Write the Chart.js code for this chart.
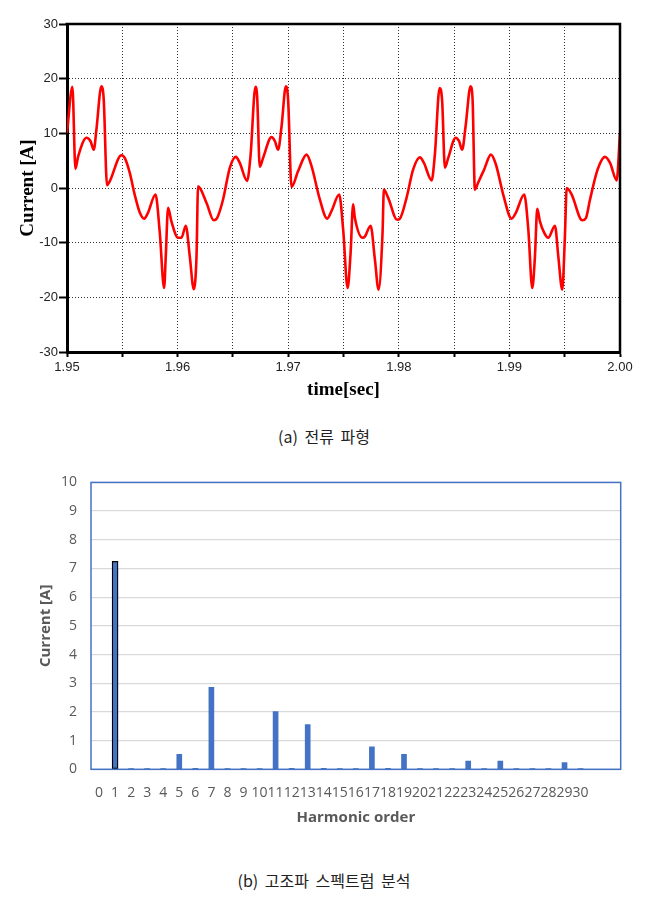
<!DOCTYPE html>
<html><head><meta charset="utf-8">
<script src="https://cdn.jsdelivr.net/npm/chart.js@4.4.1/dist/chart.umd.min.js"></script>
<style>
html,body{margin:0;padding:0;background:#fff;width:648px;height:898px;overflow:hidden;position:relative}
#c1{position:absolute;left:0;top:0;width:648px;height:405px}
#c2{position:absolute;left:0;top:460px;width:648px;height:370px}
.cap{position:absolute;left:0;width:648px;text-align:center;font-family:"Noto Sans CJK KR";font-size:16px;line-height:24px;color:#222;word-spacing:3px}
</style></head><body>
<canvas id="c1" width="648" height="405"></canvas>
<canvas id="c2" width="648" height="370"></canvas>
<div class="cap" style="top:424px">(a) 전류 파형</div>
<div class="cap" style="top:868px">(b) 고조파 스펙트럼 분석</div>
<script>
// ---- (a) current waveform ----
const times = [1.95000,1.95049,1.95076,1.95100,1.95176,1.95212,1.95242,1.95266,1.95311,1.95332,
1.95362,1.95386,1.95492,1.95522,1.95567,1.95612,1.95658,1.95697,1.95733,1.95800,
1.95839,1.95878,1.95893,1.95914,1.95944,1.96004,1.96035,1.96074,1.96110,1.96146,
1.96171,1.96185,1.96261,1.96327,1.96357,1.96411,1.96472,1.96526,1.96562,1.96628,
1.96659,1.96704,1.96719,1.96743,1.96773,1.96849,1.96879,1.96909,1.96940,1.96979,
1.96999,1.97030,1.97090,1.97166,1.97211,1.97286,1.97352,1.97392,1.97461,1.97497,
1.97537,1.97564,1.97587,1.97603,1.97672,1.97693,1.97745,1.97784,1.97817,1.97853,
1.97865,1.97904,1.97985,1.98010,1.98070,1.98130,1.98191,1.98227,1.98297,1.98326,
1.98369,1.98392,1.98417,1.98447,1.98514,1.98544,1.98573,1.98604,1.98649,1.98667,
1.98688,1.98718,1.98772,1.98833,1.98878,1.98944,1.99020,1.99059,1.99134,1.99171,
1.99207,1.99231,1.99252,1.99276,1.99315,1.99351,1.99412,1.99442,1.99478,1.99502,
1.99518,1.99563,1.99659,1.99692,1.99729,1.99798,1.99864,1.99910,1.99970,2.00000];
const current = [10.1,18.5,3.5,5.7,9.2,8.6,7.0,10.7,18.6,16.2,
0.5,1.2,6.0,5.5,2.8,-1.2,-4.5,-5.6,-4.5,-1.2,
-8.2,-18.3,-12.5,-3.6,-6.1,-9.1,-9.1,-6.9,-12.5,-18.5,
-12.5,0.3,-2.7,-5.9,-5.5,-2.1,3.7,5.7,4.6,1.3,
5.8,18.5,16.8,3.9,5.5,9.3,8.6,7.0,11.3,18.6,
16.2,0.2,3.1,6.1,4.0,-2.1,-5.6,-4.2,-1.2,-7.6,
-18.3,-11.9,-3.0,-5.5,-9.1,-8.9,-6.9,-13.1,-18.6,-8.2,
-0.3,-1.8,-5.8,-5.6,-1.8,3.4,5.6,4.6,1.4,6.1,
18.3,15.9,3.7,5.5,9.2,8.6,7.0,11.3,18.6,16.2,
-0.3,1.0,3.4,6.1,4.3,-1.2,-5.6,-4.5,-1.2,-7.6,
-18.3,-12.5,-3.8,-6.1,-8.2,-9.1,-6.9,-12.5,-18.6,-8.8,
0.0,-1.2,-5.9,-5.5,-2.1,3.4,5.7,4.6,1.4,10.1];
const timeMin = 1.95, timeMax = 2.00, timeStep = 0.005;
const currentMin = -30, currentMax = 30, currentStep = 10;

// ---- (b) harmonic spectrum ----
const harmonicLabels = ['0','1','2','3','4','5','6','7','8','9','10','11','12','13','14','15','16','17','18','19','20','21','22','23','24','25','26','27','28','29','30','',''];
const harmonicCurrent = [0,7.25,0.01,0.01,0.01,0.52,0.03,2.86,0.01,0.01,0.01,2.01,0.03,1.56,0.03,0.01,0.01,0.78,0.03,0.52,0.01,0.01,0.01,0.29,0.02,0.29,0.01,0.01,0.01,0.23,0.01,null,null];
const fundamentalIndex = 1;

const frame1 = {id:'frame1', afterDatasetsDraw(chart){
  const {ctx, chartArea:a} = chart;
  ctx.save(); ctx.strokeStyle='#000'; ctx.lineWidth=2.5; ctx.setLineDash([]);
  ctx.beginPath(); ctx.moveTo(a.left-1.5,a.top); ctx.lineTo(a.right,a.top); ctx.lineTo(a.right,a.bottom+1.5); ctx.stroke();
  ctx.restore();
}};
const frame2 = {id:'frame2', afterDatasetsDraw(chart){
  const {ctx, chartArea:a} = chart;
  ctx.save(); ctx.strokeStyle='#4472C4'; ctx.lineWidth=1.5;
  ctx.strokeRect(a.left,a.top,a.right-a.left,a.bottom-a.top);
  ctx.restore();
}};

new Chart(document.getElementById('c1'), {
  type:'line',
  data:{datasets:[{data: times.map((t,i)=>({x:t,y:current[i]})), borderColor:'#ff0000', borderWidth:2.6, pointRadius:0, cubicInterpolationMode:'monotone', fill:false}]},
  options:{
    responsive:false, animation:false, devicePixelRatio:1,
    layout:{padding:{left:0,top:24,right:28,bottom:0}},
    plugins:{legend:{display:false}, tooltip:{enabled:false}},
    scales:{
      x:{type:'linear', min:timeMin, max:timeMax,
        afterFit(s){ s.height = 53; },
        ticks:{stepSize:timeStep, autoSkip:false, maxRotation:0, padding:3, color:'#222',
          font:{family:'Liberation Sans', size:13},
          callback:(v,i)=> i%2===0 ? Number(v).toFixed(2) : ''},
        grid:{color:'#333', lineWidth:1, tickLength:5, tickColor:'#000', tickWidth:2, tickBorderDash:[]},
        border:{display:true, color:'#000', width:3, dash:[1,2]},
        title:{display:true, text:'time[sec]', color:'#000', font:{family:'Liberation Serif', size:19, weight:'bold'}, padding:{top:0,bottom:3.6}}
      },
      y:{min:currentMin, max:currentMax,
        afterFit(s){ s.width = 67; },
        ticks:{stepSize:currentStep, padding:1, color:'#222', font:{family:'Liberation Sans', size:13}},
        grid:{color:'#333', lineWidth:1, tickLength:8, tickColor:'#000', tickWidth:2, tickBorderDash:[]},
        border:{display:true, color:'#000', width:3, dash:[1,2]},
        title:{display:true, text:'Current [A]', color:'#000', font:{family:'Liberation Serif', size:19, weight:'bold'}, padding:{top:16.6,bottom:0}}
      }
    }
  },
  plugins:[frame1]
});

new Chart(document.getElementById('c2'), {
  type:'bar',
  data:{labels:harmonicLabels, datasets:[
    {data: harmonicCurrent.map((v,i)=> i===fundamentalIndex ? null : v), backgroundColor:'#4472C4', barThickness:5, grouped:false},
    {data: harmonicCurrent.map((v,i)=> i===fundamentalIndex ? v : null), backgroundColor:'#4472C4', borderColor:'#000', borderWidth:1.3, borderSkipped:false, barThickness:6, grouped:false}
  ]},
  options:{
    responsive:false, animation:false, devicePixelRatio:1,
    layout:{padding:{left:0,top:19.3,right:27.3,bottom:0}},
    plugins:{legend:{display:false}, tooltip:{enabled:false}},
    scales:{
      x:{afterFit(s){ s.height = 60.7; },
        ticks:{autoSkip:false, maxRotation:0, minRotation:0, padding:7, color:'#595959', font:{family:'Open Sans', size:14}},
        grid:{display:false},
        border:{display:false},
        title:{display:true, text:'Harmonic order', color:'#595959', font:{family:'Open Sans', size:15, weight:'bold'}, padding:{top:0,bottom:3}}
      },
      y:{min:0, max:10,
        afterFit(s){ s.width = 91; },
        ticks:{stepSize:1, padding:14, color:'#595959', font:{family:'Open Sans', size:14}},
        grid:{color:'#d9d9d9', lineWidth:1.3, drawTicks:false},
        border:{display:false},
        title:{display:true, text:'Current [A]', color:'#595959', font:{family:'Open Sans', size:15, weight:'bold'}, padding:{top:37,bottom:0}}
      }
    }
  },
  plugins:[frame2]
});
</script>
</body></html>
